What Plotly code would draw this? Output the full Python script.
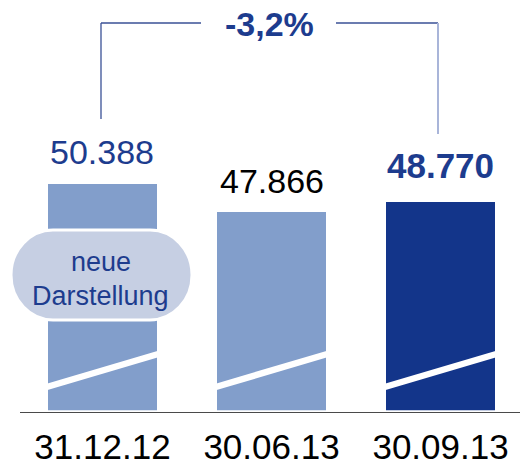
import plotly.graph_objects as go

# ---- data ----
categories = ["31.12.12", "30.06.13", "30.09.13"]
values = [50388, 47866, 48770]
value_labels = ["50.388", "47.866", "48.770"]
change_label = "-3,2%"
bubble_lines = ["neue", "Darstellung"]

# ---- styles ----
FONT = "Liberation Sans, Arial, sans-serif"
NAVY = "#1d3c8e"
bar_colors = ["#829ecb", "#829ecb", "#13358a"]
label_colors = [NAVY, "#000000", NAVY]
label_bold = [False, False, True]
label_shift = [32, 31, 36]
label_sizes = [34, 34, 35]

# body margin is removed (post_script), so figure pixels == reference pixels
W, H = 520, 465
X0, X1 = 20, 520          # plot area in reference pixels
Y0, Y1 = 0, 412
ML, MR = X0, W - X1
MT, MB = Y0, H - Y1
PW, PH = X1 - X0, Y1 - Y0


def px(x):
    return (x - X0) / PW


def py(y):
    return (Y1 - y) / PH


fig = go.Figure()
fig.add_trace(go.Bar(
    x=categories, y=values,
    marker=dict(color=bar_colors, line=dict(width=0)),
    width=0.645, hoverinfo="skip", cliponaxis=True,
))

shapes = []
# axis-break stripes
for i in range(len(categories)):
    shapes.append(dict(type="line", xref="x", yref="paper",
                       x0=i - 0.34, x1=i + 0.34, y0=py(387.5), y1=py(353.5),
                       line=dict(color="white", width=6.5), layer="above"))
# small gap between bars and axis line
shapes.append(dict(type="rect", xref="paper", yref="paper", x0=0, x1=1,
                   y0=py(412), y1=py(410.3), fillcolor="white", line=dict(width=0),
                   layer="above"))

# bubble (rounded pill)
bx0, bx1, by0, by1 = 11, 192, 230, 320
rx, ry = 42, 45
k = 0.5523
pts = [
    f"M {px(bx0 + rx)},{py(by0)}",
    f"L {px(bx1 - rx)},{py(by0)}",
    f"C {px(bx1 - rx + k * rx)},{py(by0)} {px(bx1)},{py(by0 + ry - k * ry)} {px(bx1)},{py(by0 + ry)}",
    f"C {px(bx1)},{py(by1 - ry + k * ry)} {px(bx1 - rx + k * rx)},{py(by1)} {px(bx1 - rx)},{py(by1)}",
    f"L {px(bx0 + rx)},{py(by1)}",
    f"C {px(bx0 + rx - k * rx)},{py(by1)} {px(bx0)},{py(by1 - ry + k * ry)} {px(bx0)},{py(by1 - ry)}",
    f"C {px(bx0)},{py(by0 + ry - k * ry)} {px(bx0 + rx - k * rx)},{py(by0)} {px(bx0 + rx)},{py(by0)}",
    "Z",
]
shapes.append(dict(type="path", xref="paper", yref="paper", path=" ".join(pts),
                   fillcolor="#c6cfe3", line=dict(color="white", width=3), layer="above"))

# bracket
shapes += [
    dict(type="line", xref="paper", yref="paper", x0=px(101), x1=px(101), y0=py(119), y1=py(23),
         line=dict(color="#3a5196", width=1.3)),
    dict(type="line", xref="paper", yref="paper", x0=px(101), x1=px(201), y0=py(23), y1=py(23),
         line=dict(color="#3a5196", width=1.3)),
    dict(type="line", xref="paper", yref="paper", x0=px(336), x1=px(438), y0=py(23), y1=py(23),
         line=dict(color="#3a5196", width=1.3)),
    dict(type="line", xref="paper", yref="paper", x0=px(438), x1=px(438), y0=py(23), y1=py(134),
         line=dict(color="#a9b5d9", width=2)),
]

annotations = []
for i, (c, v, t) in enumerate(zip(categories, values, value_labels)):
    txt = f"<b>{t}</b>" if label_bold[i] else t
    annotations.append(dict(x=c, y=v, xref="x", yref="y", text=txt, showarrow=False,
                            xanchor="center", yanchor="middle", yshift=label_shift[i],
                            font=dict(family=FONT, size=label_sizes[i], color=label_colors[i])))
annotations.append(dict(x=px(269), y=py(24), xref="paper", yref="paper",
                        text=f"<b>{change_label}</b>", showarrow=False,
                        xanchor="center", yanchor="middle",
                        font=dict(family=FONT, size=34, color=NAVY)))
annotations.append(dict(x=px(100.5), y=py(262), xref="paper", yref="paper",
                        text=bubble_lines[0], showarrow=False,
                        xanchor="center", yanchor="middle",
                        font=dict(family=FONT, size=27, color=NAVY)))
annotations.append(dict(x=px(100.5), y=py(296), xref="paper", yref="paper",
                        text=bubble_lines[1], showarrow=False,
                        xanchor="center", yanchor="middle",
                        font=dict(family=FONT, size=27, color=NAVY)))

# y scale: bar 1 top at ref pixel 184, ~90.07 units per pixel
UPP = 90.07
y_top = values[0] + (184 - Y0) * UPP
y_bot = values[0] - (Y1 - 184) * UPP

fig.update_layout(
    width=W, height=H,
    margin=dict(l=ML, r=MR, t=MT, b=MB, autoexpand=False),
    paper_bgcolor="white", plot_bgcolor="white",
    showlegend=False, hovermode=False,
    shapes=shapes, annotations=annotations,
    xaxis=dict(range=[-0.488, 2.47], showgrid=False, zeroline=False, automargin=False,
               showline=True, linecolor="#4a4a4a", linewidth=1.2,
               ticks="", ticklabelstandoff=4,
               tickfont=dict(family=FONT, size=35, color="black"),
               fixedrange=True),
    yaxis=dict(range=[y_bot, y_top], visible=False, fixedrange=True, automargin=False),
    bargap=0,
)

fig.write_html("out.html",
               config={"displayModeBar": False, "staticPlot": True},
               post_script="document.body.style.margin='0';document.body.style.overflow='hidden';")
